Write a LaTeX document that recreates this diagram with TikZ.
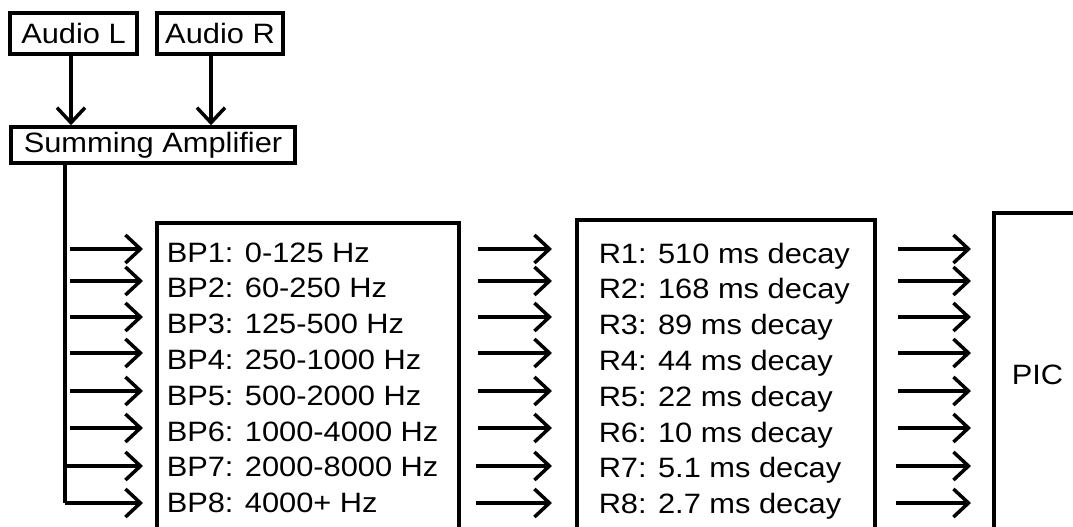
\documentclass[tikz,border=0pt]{standalone}
\usepackage{fontspec}
\setmainfont{Liberation Sans}[FakeStretch=1.1]
\usetikzlibrary{arrows.meta}
\begin{document}
\begin{tikzpicture}[x=1pt,y=-1pt,
  line width=3.5pt,
  every node/.style={font=\fontsize{28}{34}\selectfont, inner sep=0pt},
  blk/.style={draw, line width=3.5pt, minimum width=#1},
  arr/.style={-{Straight Barb[length=15pt,width=28pt]}},
  rowtext/.style={anchor=base west}
]
\useasboundingbox (0,0) rectangle (1073,527);
\fill[white] (0,0) rectangle (1073,527);

% top inputs
\node[blk=127, minimum height=41] (audioL) at (73.5,33.5) {Audio L};
\node[blk=126, minimum height=41] (audioR) at (220,33.5) {Audio R};
\node[blk=284, minimum height=36] (sum) at (153,145) {Summing Amplifier};

\coordinate (inL) at (71,54);
\coordinate (inR) at (211,54);
\draw[arr] (inL) -- (inL |- sum.north);
\draw[arr] (inR) -- (inR |- sum.north);

% trunk
\coordinate (trunkbot) at (65,503);
\draw (sum.south -| trunkbot) -- (trunkbot);

% blocks (extending past the page bottom / right)
\node[draw, line width=3.5pt, minimum width=302, minimum height=320, anchor=north west] (bpbox) at (155,221) {};
\node[draw, line width=3.5pt, minimum width=298, minimum height=320, anchor=north west] (rbox) at (575,218) {};
\node[draw, line width=3.5pt, minimum width=120, minimum height=330, anchor=north west] (pic) at (992,211) {};
\node (pictext) at (1037.5,375) {PIC};

% texts
\foreach \t [count=\i] in {BP1: 0-125 Hz, BP2: 60-250 Hz, BP3: 125-500 Hz, BP4: 250-1000 Hz, BP5: 500-2000 Hz, BP6: 1000-4000 Hz, BP7: 2000-8000 Hz, BP8: 4000+ Hz}{
  \pgfmathsetmacro{\yb}{262+35.8*(\i-1)}
  \node[rowtext] (bp\i) at (165,\yb) {\t};
}
\foreach \t [count=\i] in {R1: 510 ms decay, R2: 168 ms decay, R3: 89 ms decay, R4: 44 ms decay, R5: 22 ms decay, R6: 10 ms decay, R7: 5.1 ms decay, R8: 2.7 ms decay}{
  \pgfmathsetmacro{\yb}{263+35.8*(\i-1)}
  \node[rowtext] (r\i) at (597,\yb) {\t};
}

% arrows
\foreach \y [count=\i] in {249,281,317,353,391,428,466,503}{
  \ifnum\i>6
    \coordinate (la\i) at (65,\y);
    \coordinate (ma\i) at (476,\y);
    \coordinate (ra\i) at (896,\y);
  \else
    \coordinate (la\i) at (70,\y);
    \coordinate (ma\i) at (478,\y);
    \coordinate (ra\i) at (898,\y);
  \fi
  \coordinate (lb\i) at (143,\y);
  \coordinate (mb\i) at (552,\y);
  \coordinate (rb\i) at (971,\y);
  \draw[arr] (la\i) -- (lb\i);
  \draw[arr] (ma\i) -- (mb\i);
  \draw[arr] (ra\i) -- (rb\i);
}
\end{tikzpicture}
\end{document}
